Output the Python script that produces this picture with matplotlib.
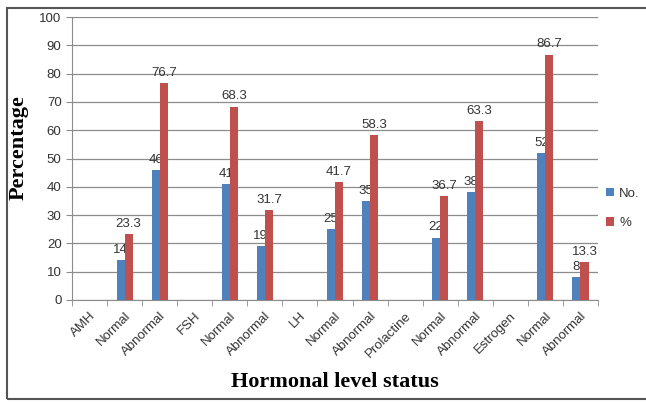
import numpy as np
import matplotlib
matplotlib.use("Agg")
import matplotlib.pyplot as plt
from matplotlib.patches import Rectangle

# data (header rows have no bars)
categories = ["AMH", "Normal", "Abnormal", "FSH", "Normal", "Abnormal",
              "LH", "Normal", "Abnormal", "Prolactine", "Normal", "Abnormal",
              "Estrogen", "Normal", "Abnormal"]
no_vals = [np.nan, 14, 46, np.nan, 41, 19, np.nan, 25, 35,
           np.nan, 22, 38, np.nan, 52, 8]
pct_vals = [np.nan, 23.3, 76.7, np.nan, 68.3, 31.7, np.nan, 41.7, 58.3,
            np.nan, 36.7, 63.3, np.nan, 86.7, 13.3]

blue = "#4F81BD"
red = "#C0504D"
sans = "Liberation Sans"
serif = "Liberation Serif"

fig = plt.figure(figsize=(6.46, 4.03), dpi=100)
ax = fig.add_axes([72/646, 1-300/403, 526/646, 283/403])

x = np.arange(len(categories))
w = 0.23
ax.bar(x - w/2, no_vals, w, color=blue, label="No.", zorder=3)
ax.bar(x + w/2, pct_vals, w, color=red, label="%", zorder=3)

for xi, n, p in zip(x, no_vals, pct_vals):
    if not np.isnan(n):
        ax.text(xi - w/2, n + 1.5, f"{n:g}", ha="center", va="bottom",
                fontsize=9.5, family=sans, color="#333333", zorder=2)
    if not np.isnan(p):
        ax.text(xi + w/2, p + 1.5, f"{p:g}", ha="center", va="bottom",
                fontsize=9.5, family=sans, color="#333333", zorder=4)

ax.set_xlim(-0.5, len(categories) - 0.5)
ax.set_ylim(0, 100)
ax.set_yticks(range(0, 101, 10))
ax.yaxis.grid(True, color="#8c8c8c", lw=0.9, zorder=0)
ax.set_axisbelow(True)

ax.set_xticks(x)
ax.set_xticklabels(categories, rotation=45, ha="right", va="top",
                   rotation_mode="anchor", fontsize=9.5, family=sans,
                   color="#333333")
ax.tick_params(axis="x", length=0, pad=7)
ax.set_xticks(np.arange(-0.5, len(categories), 1), minor=True)
ax.tick_params(axis="x", which="minor", length=4, color="#8c8c8c")
ax.tick_params(axis="y", length=4, color="#8c8c8c", labelsize=9.5,
               labelcolor="#333333")
for lab in ax.get_yticklabels():
    lab.set_family(sans)

for s in ["top", "right"]:
    ax.spines[s].set_visible(False)
ax.spines["left"].set_color("#8c8c8c")
ax.spines["bottom"].set_color("#8c8c8c")

fig.text(19/646, 1-148/403, "Percentage", family=serif, fontweight="bold",
         fontsize=16, rotation=90, ha="center", va="center")
fig.text(335/646, 1-382/403, "Hormonal level status", family=serif,
         fontweight="bold", fontsize=16, ha="center", va="center")

leg = fig.legend(loc="upper left", bbox_to_anchor=(594/646, 1-176/403),
                 frameon=False, prop={"family": sans, "size": 9.5},
                 handlelength=0.6, handleheight=0.6, handletextpad=0.4,
                 labelspacing=1.3)
for t in leg.get_texts():
    t.set_color("#333333")

# outer frame of the chart
fig.patches.append(Rectangle((7/646, 4/403), 650/646, 391/403, fill=False,
                             edgecolor="#555555", lw=1.5,
                             transform=fig.transFigure, figure=fig))

fig.savefig("out.png", dpi=100)
